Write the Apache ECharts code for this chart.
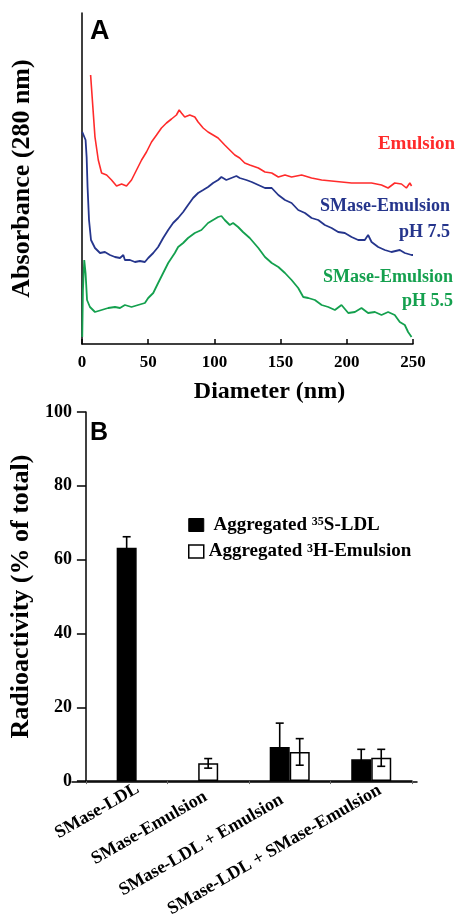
<!DOCTYPE html>
<html>
<head>
<meta charset="utf-8">
<script src="https://cdn.jsdelivr.net/npm/echarts@6/dist/echarts.min.js"></script>
<style>
html,body{margin:0;padding:0;background:#fff;}
#c{width:458px;height:920px;}
</style>
</head>
<body>
<div id="c"></div>
<script>
// ---------- Panel A: absorbance vs diameter (arbitrary units) ----------
const diamTicks = [0, 50, 100, 150, 200, 250];
const emulsion = [[6.5,269],[9.8,207],[11.0,206],[12.3,184],[14.8,171],[18.6,169],[22.3,164],[26.1,158],[29.9,160],[33.6,158],[37.4,164],[41.2,174],[45,184],[48.7,192],[52.5,202],[56.3,209],[60,216],[63.8,221],[67.6,225],[71.3,229],[73.4,234],[75.1,231],[77.6,227],[81.4,229],[85.2,227],[87.7,222],[91.5,216],[95.2,212],[99,209],[102.8,206],[107.8,199],[111.6,194],[115.4,189],[119.1,186],[122.9,181],[126.7,179],[128.2,179],[133.2,176],[138.2,172],[143.3,171],[148.3,167],[153.3,169],[158.3,167],[165.9,169],[173.4,166],[181,164],[188.5,163],[196,162],[203.6,161],[211.1,161],[218.7,161],[226.2,159],[231.2,156],[236.2,161],[241.3,160],[245,156],[247.6,161],[248.9,158]];
const smaseEmul75 = [[0.2,212],[1.7,211],[2.7,204],[3.5,187],[4.2,157],[5.3,124],[6.8,104],[9.8,96],[13.6,91],[17.3,92],[21.1,89],[24.9,87],[28.7,86],[31.2,89],[32.4,84],[36.2,84],[40,82],[43.7,83],[47.5,82],[50,86],[53.8,91],[57.5,97],[61.3,106],[65.1,114],[68.8,121],[72.6,126],[76.4,132],[80.1,139],[83.9,146],[87.7,151],[91.5,154],[95.2,157],[99,161],[102.8,164],[105.3,167],[109,164],[112.8,166],[116.6,168],[119.1,166],[124.1,164],[128.2,162],[133.2,159],[138.2,156],[143.3,156],[148.3,149],[153.3,144],[158.3,141],[163.3,134],[168.4,131],[173.4,126],[178.4,124],[183.4,119],[188.5,116],[193.5,112],[198.5,111],[203.6,107],[208.6,104],[213.6,104],[216.1,109],[218.7,102],[223.7,97],[228.7,94],[233.7,92],[240,94],[243.8,91],[248.9,89],[250,89]];
const smaseEmul55 = [[0.2,7],[0.7,54],[1.7,84],[2.7,71],[3.8,44],[6,37],[9.8,32],[14.8,34],[19.8,36],[24.9,37],[28.7,36],[32.4,39],[37.4,37],[42.4,39],[47.5,41],[50,46],[53.8,51],[57.5,61],[61.3,71],[65.1,81],[70.1,91],[72.6,97],[76.4,101],[80.1,106],[85.2,111],[90.2,114],[95.2,121],[99,124],[102.8,127],[105.3,128],[107.8,124],[111.6,119],[114.1,121],[117.9,117],[121.6,112],[126.7,106],[128.2,106],[133.2,96],[138.2,87],[143.3,81],[148.3,77],[153.3,71],[158.3,64],[163.3,56],[167.1,47],[170.9,46],[175.9,44],[181,39],[186,37],[191,34],[196,39],[201.1,31],[206.1,32],[211.1,36],[216.1,31],[221.2,32],[226.2,29],[231.2,32],[236.2,29],[240,22],[243.8,19],[246.3,12],[248.9,7]];

// ---------- Panel B: radioactivity ----------
const categories = ['SMase-LDL', 'SMase-Emulsion', 'SMase-LDL + Emulsion', 'SMase-LDL + SMase-Emulsion'];
const ldlMean = [63.2, null, 9.2, 5.9];
const ldlErr  = [3.0, null, 6.5, 2.7];
const emulMean = [null, 4.8, 7.9, 6.3];
const emulErr  = [null, 1.3, 3.6, 2.3];
const radioTicks = [0, 20, 40, 60, 80, 100];

const RED = '#ff2b2b', BLUE = '#25358c', GREEN = '#14a04e';
const SERIF = '"Liberation Serif","Times New Roman",serif';
const SANS = '"Liberation Sans",Arial,sans-serif';
const LDL_NAME = 'Aggregated 35S-LDL';
const EMUL_NAME = 'Aggregated 3H-Emulsion';

const blackStyle = {color: '#000', borderColor: '#000', borderWidth: 1.5};
const whiteStyle = {color: '#fff', borderColor: '#000', borderWidth: 1.5};

// per-label nudges (the original labels were placed by hand)
const labelPads = [[15, -13, 0, 0], [0, 3, 3, 0], [0, 9, 10, 0], [12, -10, 0, 0]];
const catData = categories.map((c, i) => ({value: c, textStyle: {padding: labelPads[i]}}));

// paired bars (both present) vs single bars (only one present)
const pairedLdl = [], pairedEmul = [], single = [], errData = [];
categories.forEach((c, i) => {
  const hasL = ldlMean[i] != null, hasE = emulMean[i] != null;
  if (hasL && hasE) {
    pairedLdl.push(ldlMean[i]); pairedEmul.push(emulMean[i]); single.push(null);
    errData.push([i, ldlMean[i], ldlErr[i], -1]);
    errData.push([i, emulMean[i], emulErr[i], 1]);
  } else {
    pairedLdl.push(null); pairedEmul.push(null);
    if (hasL) { single.push({value: ldlMean[i], itemStyle: blackStyle}); errData.push([i, ldlMean[i], ldlErr[i], 0]); }
    else { single.push({value: emulMean[i], itemStyle: whiteStyle}); errData.push([i, emulMean[i], emulErr[i], 0]); }
  }
});

const BAR_W = 20;
const chart = echarts.init(document.getElementById('c'), null, {renderer: 'canvas'});
const boldSerif = (size, color) => ({fontFamily: SERIF, fontWeight: 'bold', fontSize: size, color: color || '#000'});

chart.setOption({
  backgroundColor: '#fff',
  animation: false,
  title: [
    {text: 'A', left: 90, top: 18, padding: 0, textStyle: {fontFamily: SANS, fontWeight: 'bold', fontSize: 27, color: '#000'}},
    {text: 'B', left: 90, top: 421, padding: 0, textStyle: {fontFamily: SANS, fontWeight: 'bold', fontSize: 25, color: '#000'}},
    {text: 'Emulsion', right: 3, top: 135, padding: 0, textStyle: boldSerif(19, RED)},
    {text: 'SMase-Emulsion', right: 8, top: 197, padding: 0, textStyle: boldSerif(18, BLUE)},
    {text: 'pH 7.5', right: 8, top: 223, padding: 0, textStyle: boldSerif(18, BLUE)},
    {text: 'SMase-Emulsion', right: 5, top: 268, padding: 0, textStyle: boldSerif(18, GREEN)},
    {text: 'pH 5.5', right: 5, top: 292, padding: 0, textStyle: boldSerif(18, GREEN)}
  ],
  legend: {
    orient: 'vertical', left: 183, top: 510,
    itemWidth: 15, itemHeight: 13, itemGap: 7,
    data: [
      {name: LDL_NAME, icon: 'rect', itemStyle: {color: '#000', borderColor: '#000', borderWidth: 1}},
      {name: EMUL_NAME, icon: 'rect', itemStyle: {color: '#fff', borderColor: '#000', borderWidth: 1.5}}
    ],
    selectedMode: false,
    formatter: function (name) {
      if (name === LDL_NAME) return '{n| Aggregated }{s|35}{n|S-LDL}';
      return '{n|Aggregated }{s|3}{n|H-Emulsion}';
    },
    textStyle: {
      fontFamily: SERIF, fontWeight: 'bold', fontSize: 19, color: '#000',
      rich: {
        n: {fontFamily: SERIF, fontWeight: 'bold', fontSize: 19, lineHeight: 20, color: '#000'},
        s: {fontFamily: SERIF, fontWeight: 'bold', fontSize: 12, lineHeight: 20, verticalAlign: 'top', padding: [1, 0, 0, 0], color: '#000'}
      }
    }
  },
  grid: [
    {left: 82, right: 45, top: 13, height: 331},
    {left: 82, right: 46, top: 412, height: 370},
    {left: 72, right: 41, top: 412, height: 370}
  ],
  xAxis: [
    {
      gridIndex: 0, type: 'value', min: diamTicks[0], max: diamTicks[diamTicks.length - 1], interval: 50,
      axisLine: {show: true, lineStyle: {color: '#000', width: 1.5}},
      axisTick: {show: true, inside: true, length: 5, lineStyle: {color: '#000', width: 1.5}},
      axisLabel: {margin: 10, fontFamily: SERIF, fontWeight: 'bold', fontSize: 17, color: '#000'},
      splitLine: {show: false},
      name: 'Diameter (nm)', nameLocation: 'middle', nameGap: 36,
      nameTextStyle: {fontFamily: SERIF, fontWeight: 'bold', fontSize: 24, color: '#000', padding: [0, 0, 0, 44]}
    },
    {
      gridIndex: 1, type: 'category', data: catData,
      axisLine: {show: true, lineStyle: {color: '#000', width: 1.5}},
      axisTick: {show: true, length: 3, lineStyle: {color: '#666', width: 1}},
      axisLabel: {interval: 0, rotate: 30, margin: 13, fontFamily: SERIF, fontWeight: 'bold', fontSize: 18, color: '#000'},
      splitLine: {show: false}
    },
    {gridIndex: 1, type: 'category', data: categories, show: false},
    {
      gridIndex: 2, type: 'value', min: 0, max: 1,
      axisLine: {show: true, lineStyle: {color: '#000', width: 1.5}},
      axisTick: {show: false}, axisLabel: {show: false}, splitLine: {show: false}
    }
  ],
  yAxis: [
    {
      gridIndex: 0, type: 'value', min: 0, max: 331,
      axisLine: {show: true, onZero: false, lineStyle: {color: '#000', width: 1.5}},
      axisTick: {show: false}, axisLabel: {show: false}, splitLine: {show: false},
      name: 'Absorbance (280 nm)', nameLocation: 'middle', nameGap: 47,
      nameTextStyle: {fontFamily: SERIF, fontWeight: 'bold', fontSize: 26, color: '#000'}
    },
    {
      gridIndex: 1, type: 'value', min: radioTicks[0], max: radioTicks[radioTicks.length - 1], interval: 20,
      axisLine: {show: true, onZero: false, lineStyle: {color: '#000', width: 1.5}},
      axisTick: {show: true, length: 9, lineStyle: {color: '#000', width: 1.5}},
      axisLabel: {margin: 14, fontFamily: SERIF, fontWeight: 'bold', fontSize: 18, color: '#000'},
      splitLine: {show: false},
      name: 'Radioactivity (% of total)', nameLocation: 'middle', nameGap: 47,
      nameTextStyle: {fontFamily: SERIF, fontWeight: 'bold', fontSize: 26, color: '#000'}
    },
    {gridIndex: 2, type: 'value', show: false, min: 0, max: 1}
  ],
  series: [
    {type: 'line', name: 'Emulsion', xAxisIndex: 0, yAxisIndex: 0, data: emulsion, showSymbol: false, lineStyle: {color: RED, width: 1.6}, itemStyle: {color: RED}},
    {type: 'line', name: 'SMase-Emulsion pH 7.5', xAxisIndex: 0, yAxisIndex: 0, data: smaseEmul75, showSymbol: false, lineStyle: {color: BLUE, width: 1.8}, itemStyle: {color: BLUE}},
    {type: 'line', name: 'SMase-Emulsion pH 5.5', xAxisIndex: 0, yAxisIndex: 0, data: smaseEmul55, showSymbol: false, lineStyle: {color: GREEN, width: 1.8}, itemStyle: {color: GREEN}},
    {type: 'bar', name: LDL_NAME, xAxisIndex: 1, yAxisIndex: 1, data: pairedLdl, barWidth: BAR_W, barGap: '0%', itemStyle: blackStyle},
    {type: 'bar', name: EMUL_NAME, xAxisIndex: 1, yAxisIndex: 1, data: pairedEmul, barWidth: BAR_W, barGap: '0%', itemStyle: whiteStyle},
    {type: 'bar', name: 'single', xAxisIndex: 2, yAxisIndex: 1, data: single, barWidth: BAR_W},
    {
      type: 'custom', name: 'error', xAxisIndex: 1, yAxisIndex: 1, data: errData, z: 10,
      encode: {x: 0, y: 1},
      renderItem: function (params, api) {
        const i = api.value(0), m = api.value(1), e = api.value(2), dir = api.value(3);
        const off = dir * BAR_W / 2;
        const top = api.coord([i, m + e]);
        const bot = api.coord([i, m - e]);
        const x = top[0] + off, cap = 4;
        const st = {stroke: '#000', lineWidth: 1.6};
        return {type: 'group', children: [
          {type: 'line', shape: {x1: x, y1: top[1], x2: x, y2: bot[1]}, style: st},
          {type: 'line', shape: {x1: x - cap, y1: top[1], x2: x + cap, y2: top[1]}, style: st},
          {type: 'line', shape: {x1: x - cap, y1: bot[1], x2: x + cap, y2: bot[1]}, style: st}
        ]};
      }
    }
  ]
});
</script>
</body>
</html>
